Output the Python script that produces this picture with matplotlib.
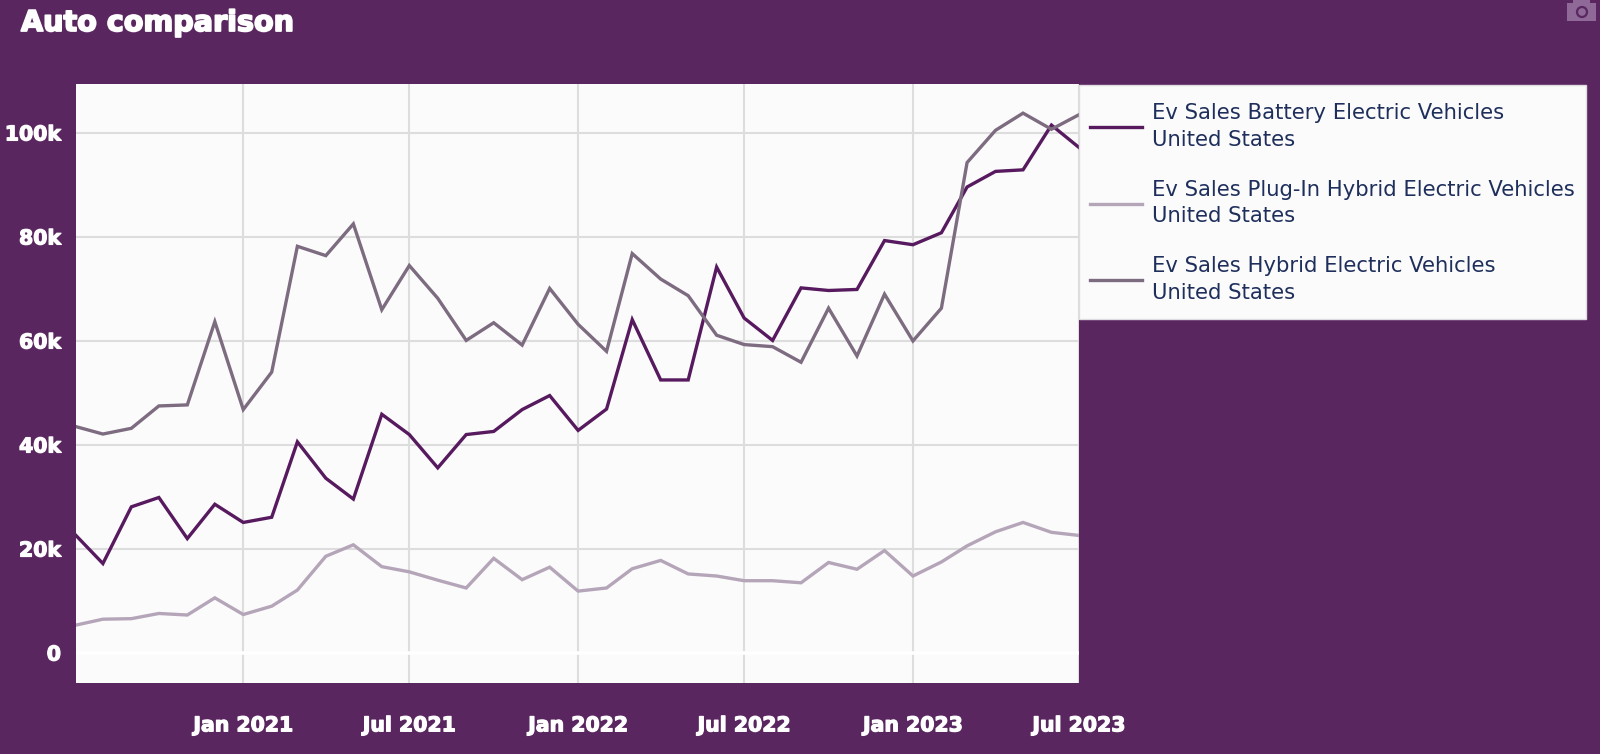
import matplotlib
matplotlib.use('Agg')
import matplotlib.pyplot as plt
import matplotlib.dates as mdates
import matplotlib.patheffects as pe
from matplotlib.patches import Circle, Rectangle
import pandas as pd

W, H = 1600, 754
BG = '#5a2660'
TXT = '#1f2f5c'

months = pd.date_range('2020-07-01', '2023-07-01', freq='MS')

bev = [22.9, 17.2, 28.1, 29.9, 22.0, 28.6, 25.1, 26.1, 40.6, 33.6, 29.6, 45.9,
       42.0, 35.6, 42.0, 42.6, 46.8, 49.5, 42.8, 46.9, 64.1, 52.5, 52.5, 74.2,
       64.4, 60.1, 70.2, 69.7, 69.9, 79.3, 78.5, 80.8, 89.6, 92.6, 92.9, 101.5, 97.2]
phev = [5.3, 6.5, 6.6, 7.6, 7.3, 10.6, 7.4, 9.0, 12.1, 18.6, 20.8, 16.6,
        15.6, 14.0, 12.5, 18.2, 14.1, 16.5, 11.9, 12.5, 16.2, 17.8, 15.2, 14.8,
        13.9, 13.9, 13.5, 17.4, 16.1, 19.7, 14.8, 17.5, 20.6, 23.3, 25.1, 23.2, 22.6]
hybrid = [43.6, 42.1, 43.2, 47.5, 47.7, 63.7, 46.8, 54.0, 78.2, 76.4, 82.5, 66.0,
          74.5, 68.2, 60.1, 63.5, 59.2, 70.1, 63.2, 58.0, 76.8, 71.9, 68.7, 61.1,
          59.3, 58.9, 55.9, 66.3, 57.1, 69.0, 60.0, 66.3, 94.3, 100.5, 103.8, 100.7, 103.5]

series = [
    ('Ev Sales Battery Electric Vehicles\nUnited States', bev, '#571a5f'),
    ('Ev Sales Plug-In Hybrid Electric Vehicles\nUnited States', phev, '#b5a5b8'),
    ('Ev Sales Hybrid Electric Vehicles\nUnited States', hybrid, '#7d6b80'),
]

fig = plt.figure(figsize=(W / 100, H / 100), dpi=100, facecolor=BG)
ax = fig.add_axes([76.3 / W, 1 - 683 / H, (1079 - 76.3) / W, (683 - 83.5) / H], facecolor='#fbfbfc')

lines = []
for name, vals, color in series:
    l, = ax.plot(months, [v * 1000 for v in vals], color=color, lw=2.4, label=name,
                 solid_joinstyle='miter', zorder=3)
    lines.append(l)

ax.set_xlim(months[0] + pd.Timedelta(days=2), months[-1])
ax.set_ylim(-5770, 109500)
ax.set_yticks(range(0, 100001, 20000))
ax.set_yticklabels(['0', '20k', '40k', '60k', '80k', '100k'])
ax.xaxis.set_major_locator(mdates.MonthLocator(bymonth=(1, 7)))
ax.xaxis.set_major_formatter(mdates.DateFormatter('%b %Y'))
ax.set_xticks([t for t in ax.get_xticks() if t > mdates.date2num(months[0])])

ax.grid(True, color='#dddddd', lw=1.5, zorder=0)
ax.axhline(0, color='white', lw=2.6, zorder=2)
ax.set_axisbelow(True)
for s in ax.spines.values():
    s.set_visible(False)
ax.tick_params(length=0, colors='white')
ax.tick_params(axis='x', pad=24)
ax.tick_params(axis='y', pad=11)

# labels are a heavy black weight in the original, DejaVu bold is the closest
fat = [pe.withStroke(linewidth=0.9, foreground='white')]
for t in ax.get_xticklabels() + ax.get_yticklabels():
    t.set_fontfamily('DejaVu Sans')
    t.set_fontweight('bold')
    t.set_fontsize(14.7)
    t.set_color('white')
    t.set_path_effects(fat)

fig.text(21 / W, 1 - 23 / H, 'Auto comparison', family='DejaVu Sans', weight='bold', fontsize=20.6,
         color='white', va='center', ha='left',
         path_effects=[pe.withStroke(linewidth=1.3, foreground='white')])

# legend box is fixed by hand, its padding is not even on all sides
fig.add_artist(Rectangle((1079 / W, 1 - 319 / H), 507 / W, 234 / H, transform=fig.transFigure,
                         fc='#fbfbfc', ec='#e0dde2', lw=1, zorder=4))
leg = fig.legend(handles=lines, loc='upper left', bbox_to_anchor=(1090 / W, 1 - 103 / H),
                 prop={'family': 'DejaVu Sans', 'size': 15.2}, labelcolor=TXT,
                 frameon=False, borderaxespad=0, borderpad=0, handlelength=2.46,
                 handletextpad=0.46, labelspacing=1.42)
for t in leg.get_texts():
    t.set_linespacing(1.42)

# camera icon of the chart toolbar, top right
icon = '#8f6a98'
fig.add_artist(Rectangle((1567 / W, 1 - 21 / H), 29 / W, 18 / H, transform=fig.transFigure, fc=icon, ec='none'))
fig.add_artist(Rectangle((1573 / W, 1 - 3 / H), 17 / W, 3 / H, transform=fig.transFigure, fc=icon, ec='none'))
cam_ax = fig.add_axes([1570 / W, 1 - 22 / H, 23 / W, 20 / H], facecolor='none', zorder=5)
cam_ax.set_xlim(0, 23)
cam_ax.set_ylim(0, 20)
cam_ax.axis('off')
cam_ax.add_patch(Circle((12, 10), 5, fc=icon, ec=BG, lw=1.6))

fig.savefig('out.png', dpi=100, facecolor=BG)
